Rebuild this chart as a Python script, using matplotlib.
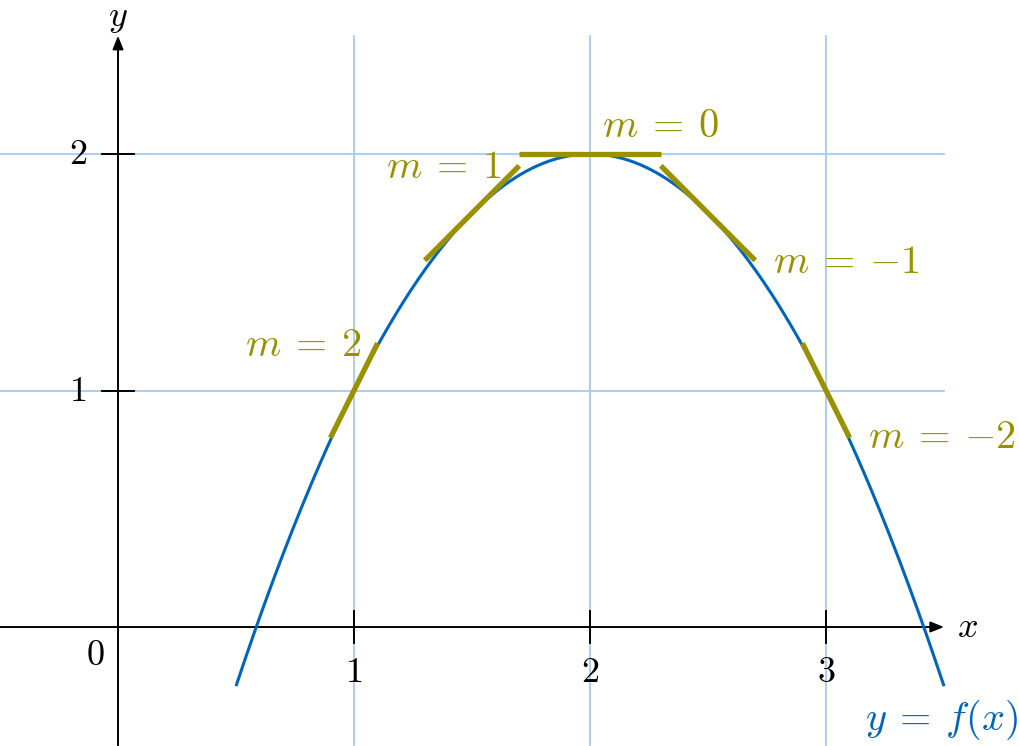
import numpy as np
import matplotlib
matplotlib.use("Agg")
import matplotlib.pyplot as plt

plt.rcParams["mathtext.fontset"] = "cm"
plt.rcParams["font.family"] = "serif"
plt.rcParams["font.serif"] = ["DejaVu Serif"]

# curve f(x) = a*(x - h)^2 + k
A_COEF = -1.0
H_VERTEX = 2.0
K_VERTEX = 2.0
X_START = 0.5
X_END = 3.5

# tangent points, slopes and half widths of the drawn segments
tan_x = [1.0, 1.5, 2.0, 2.5, 3.0]
tan_slope = [2, 1, 0, -1, -2]
tan_half = [0.1, 0.2, 0.3, 0.2, 0.1]

x_ticks = [1, 2, 3]
y_ticks = [1, 2]

BLUE = "#0066bb"
OLIVE = "#999100"
GRID = "#a7cbec"


def f(x):
    return A_COEF * (x - H_VERTEX) ** 2 + K_VERTEX


fig = plt.figure(figsize=(10.2, 7.46), dpi=100)
ax = fig.add_axes([0, 0, 1, 1])
ax.set_xlim(-0.5, 3.822)
ax.set_ylim(-0.503, 2.651)
ax.axis("off")

# grid
for xt in x_ticks:
    ax.plot([xt, xt], [-0.5, 2.5], color=GRID, lw=1.3, zorder=1)
for yt in y_ticks:
    ax.plot([-0.5, 3.5], [yt, yt], color=GRID, lw=1.3, zorder=1)

# axes with arrows
arrow = dict(arrowstyle="-|>,head_length=0.8,head_width=0.32", color="black",
             lw=1.4, shrinkA=0, shrinkB=0)
ax.annotate("", xy=(3.5, 0), xytext=(-0.5, 0), arrowprops=arrow, zorder=3)
ax.annotate("", xy=(0, 2.5), xytext=(0, -0.5), arrowprops=arrow, zorder=3)

# ticks
tk = 0.068
TICK_FS = 26
for xt in x_ticks:
    ax.plot([xt, xt], [-tk, tk], color="black", lw=1.4, zorder=3)
    ax.text(xt, -0.19, f"${xt}$", ha="center", va="center", fontsize=TICK_FS)
for yt in y_ticks:
    ax.plot([-tk, tk], [yt, yt], color="black", lw=1.4, zorder=3)
    ax.text(-0.17, yt, f"${yt}$", ha="center", va="center", fontsize=TICK_FS)
ax.text(-0.097, -0.118, "$0$", ha="center", va="center", fontsize=TICK_FS)
ax.text(3.60, 0, "$x$", ha="center", va="center", fontsize=TICK_FS)
ax.text(0, 2.645, "$y$", ha="center", va="top", fontsize=TICK_FS)

# curve
xs = np.linspace(X_START, X_END, 300)
ax.plot(xs, f(xs), color=BLUE, lw=2.2, zorder=4, solid_capstyle="butt")
ax.text(3.49, -0.393, r"$y\:=\:f(x)$", color=BLUE, ha="center", va="center",
        fontsize=29)

# tangent segments
for x0, m, h in zip(tan_x, tan_slope, tan_half):
    xa, xb = x0 - h, x0 + h
    ya, yb = f(x0) + m * (xa - x0), f(x0) + m * (xb - x0)
    ax.plot([xa, xb], [ya, yb], color=OLIVE, lw=3.8, zorder=5,
            solid_capstyle="butt")

# slope labels
lab_kw = dict(color=OLIVE, fontsize=29, va="center")
ax.text(1.034, 1.192, r"$m\:=\:2$", ha="right", **lab_kw)
ax.text(1.627, 1.941, r"$m\:=\:1$", ha="right", **lab_kw)
ax.text(2.30, 2.118, r"$m\:=\:0$", ha="center", **lab_kw)
ax.text(2.775, 1.543, r"$m\:=\:{-1}$", ha="left", **lab_kw)
ax.text(3.178, 0.80, r"$m\:=\:{-2}$", ha="left", **lab_kw)

fig.savefig("out.png", dpi=100)
